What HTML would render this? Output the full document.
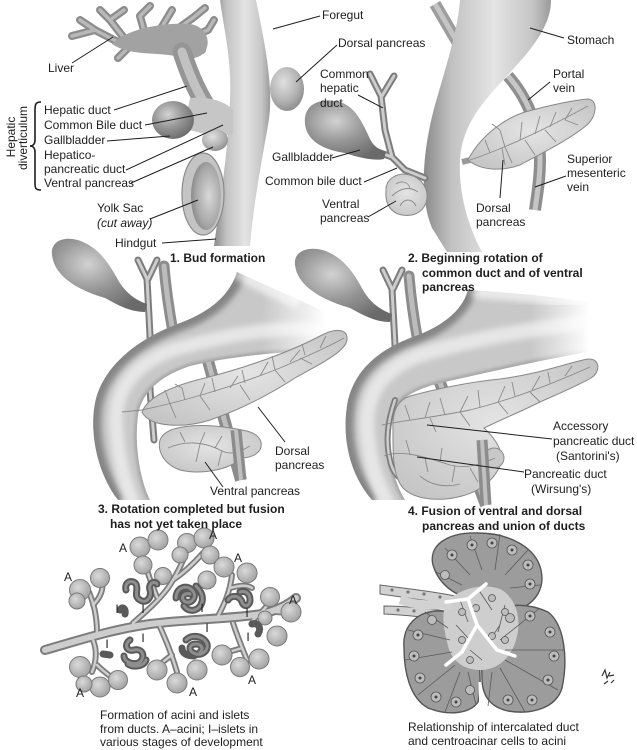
<!DOCTYPE html>
<html><head><meta charset="utf-8">
<style>
html,body{margin:0;padding:0;background:#fff;width:637px;height:750px;overflow:hidden}
svg{display:block}
text{font-family:"Liberation Sans",Arial,sans-serif;font-size:12px;fill:#1e1e1e}
.b{font-weight:bold}
.ln{stroke:#1e1e1e;stroke-width:1;fill:none}
.pv{fill:none;stroke:#8a8a8a;stroke-width:.9}
.ac{fill:url(#ac);stroke:#7a7a7a;stroke-width:1}
.isl{fill:none;stroke:#5a5a5a;stroke-width:7;stroke-linecap:round;stroke-linejoin:round}
.isl2{fill:none;stroke:#8e8e8e;stroke-width:3;stroke-linecap:round;stroke-linejoin:round}
.du{fill:none;stroke:#7c7c7c;stroke-linecap:round;stroke-linejoin:round}
.du2{fill:none;stroke:#cdcdcd;stroke-linecap:round;stroke-linejoin:round}
.nu{fill:#bdbdbd;stroke:#555;stroke-width:.8}
.cl{stroke:#5a5a5a;stroke-width:.8;fill:none}
</style></head><body>
<svg width="637" height="750" viewBox="0 0 637 750" xmlns="http://www.w3.org/2000/svg">
<defs>
 <linearGradient id="tv" x1="0" x2="1" y1="0" y2="0">
  <stop offset="0" stop-color="#8a8a8a"/><stop offset=".22" stop-color="#c2c2c2"/><stop offset=".55" stop-color="#e4e4e4"/><stop offset=".85" stop-color="#c6c6c6"/><stop offset="1" stop-color="#9a9a9a"/>
 </linearGradient>
 <radialGradient id="gb" cx=".38" cy=".35" r=".7">
  <stop offset="0" stop-color="#d2d2d2"/><stop offset=".5" stop-color="#979797"/><stop offset="1" stop-color="#6a6a6a"/>
 </radialGradient>
 <radialGradient id="bud" cx=".4" cy=".35" r=".7">
  <stop offset="0" stop-color="#e0e0e0"/><stop offset=".6" stop-color="#b4b4b4"/><stop offset="1" stop-color="#8a8a8a"/>
 </radialGradient>
 <radialGradient id="pc" cx=".5" cy=".45" r=".7">
  <stop offset="0" stop-color="#e4e4e4"/><stop offset="1" stop-color="#c2c2c2"/>
 </radialGradient>
 <radialGradient id="ac" cx=".4" cy=".38" r=".65">
  <stop offset="0" stop-color="#dadada"/><stop offset="1" stop-color="#a2a2a2"/>
 </radialGradient>
 <radialGradient id="ys" cx=".6" cy=".5" r=".7">
  <stop offset="0" stop-color="#d8d8d8"/><stop offset=".6" stop-color="#a8a8a8"/><stop offset="1" stop-color="#7a7a7a"/>
 </radialGradient>
 <linearGradient id="fade3" gradientUnits="userSpaceOnUse" x1="262" y1="0" x2="326" y2="0">
  <stop offset="0" stop-color="#fff" stop-opacity="0"/><stop offset="1" stop-color="#fff" stop-opacity="1"/>
 </linearGradient>
 <linearGradient id="fade4" gradientUnits="userSpaceOnUse" x1="530" y1="0" x2="590" y2="0">
  <stop offset="0" stop-color="#fff" stop-opacity="0"/><stop offset="1" stop-color="#fff" stop-opacity="1"/>
 </linearGradient>
 <filter id="bl" x="-30%" y="-30%" width="160%" height="160%"><feGaussianBlur stdDeviation="3"/></filter>
 <filter id="bl2" x="-30%" y="-30%" width="160%" height="160%"><feGaussianBlur stdDeviation="1.5"/></filter>
 <clipPath id="c3"><path d="M237,272 C230,295 210,312 180,323 C140,338 108,362 97,395 C88,425 95,470 118,500 L150,500 C140,480 134,445 138,415 C142,392 160,376 190,366 C230,356 280,352 325,350 L325,312 C300,300 265,285 237,272 Z"/></clipPath>
 <clipPath id="c4"><path d="M468,290 C462,312 440,328 410,338 C375,352 355,372 348,400 C342,430 346,470 372,500 L405,500 C393,480 386,450 390,422 C395,400 412,390 440,383 C490,372 540,360 588,352 L588,302 C550,296 505,292 468,290 Z"/></clipPath>
</defs>

<!-- ================= PANEL 1 ================= -->
<g stroke-linecap="round" stroke-linejoin="round" fill="none">
 <path d="M118,42 L95,30 L80,20 M95,30 L72,36 M124,38 L110,20 L100,10 M110,20 L124,10 M145,34 L140,16 L150,6 M160,30 L172,10 M176,30 L194,17 L205,8 M194,36 L208,30 L214,20 M185,46 L202,50 M132,44 L118,58" stroke="#8c8c8c" stroke-width="8"/>
 <path d="M118,42 L95,30 L80,20 M95,30 L72,36 M124,38 L110,20 L100,10 M110,20 L124,10 M145,34 L140,16 L150,6 M160,30 L172,10 M176,30 L194,17 L205,8 M194,36 L208,30 L214,20 M185,46 L202,50 M132,44 L118,58" stroke="#b8b8b8" stroke-width="3.5"/>
</g>
<path d="M112,44 C125,30 160,22 190,24 C205,26 212,40 205,52 C198,60 185,60 175,56 C155,52 130,56 112,44 Z" fill="#a2a2a2"/>
<path d="M182,52 C188,70 194,86 206,106" stroke="#959595" stroke-width="19" fill="none" stroke-linecap="round"/>
<path d="M182,52 C188,70 194,86 206,106" stroke="#c2c2c2" stroke-width="9" fill="none" stroke-linecap="round"/>
<path d="M220,0 C224,30 232,60 230,100 C229,140 222,190 214,246 L250,246 C254,200 262,160 268,125 C275,90 264,40 256,0 Z" fill="url(#tv)"/>
<path d="M190,98 C210,96 226,102 233,110 L233,134 C220,138 200,134 184,128 Z" fill="#c6c6c6"/>
<ellipse cx="173" cy="120" rx="21" ry="19" fill="url(#gb)"/>
<ellipse cx="215" cy="140" rx="13" ry="11" fill="url(#bud)"/>
<ellipse cx="287" cy="89" rx="17" ry="22" fill="url(#bud)"/>
<ellipse cx="203" cy="194" rx="21" ry="41" fill="#c4c4c4" stroke="#8a8a8a" stroke-width="1.2"/>
<ellipse cx="206" cy="196" rx="15" ry="34" fill="url(#ys)"/>

<!-- ================= PANEL 2 ================= -->
<path d="M435,4 L459,45" stroke="#9c9c9c" stroke-width="12" fill="none"/>
<path d="M435,4 L459,45" stroke="#c4c4c4" stroke-width="5" fill="none"/>
<path d="M508,76 C525,95 540,125 540,160 C540,180 537,195 535,210" stroke="#8e8e8e" stroke-width="12" fill="none"/>
<path d="M508,76 C525,95 540,125 540,160 C540,180 537,195 535,210" stroke="#c6c6c6" stroke-width="5" fill="none"/>
<path d="M460,0 C458,30 445,70 435,105 C424,145 418,195 432,228 L447,252 L482,252 C470,230 458,195 460,160 C462,120 490,95 515,67 C540,40 551,20 551,0 Z" fill="url(#tv)"/>
<path class="du" stroke-width="7" d="M370,74 L381,96 M394,76 L382,96 M381,96 L385,130 L392,157 L405,170 L425,178 M372,150 L392,157"/>
<path class="du2" stroke-width="3" d="M370,74 L381,96 M394,76 L382,96 M381,96 L385,130 L392,157 L405,170 L425,178 M372,150 L392,157"/>
<path d="M305,124 C303,104 320,97 340,102 C356,107 363,124 370,139 C374,147 380,150 386,152 L384,159 C375,161 360,158 345,153 C325,150 307,142 305,124 Z" fill="url(#gb)"/>
<path d="M386,190 C386,178 398,172 410,175 C422,178 430,190 426,203 C422,214 410,218 398,214 C388,210 385,200 386,190 Z" fill="url(#pc)" stroke="#888" stroke-width="1"/>
<path class="pv" d="M392,196 C400,188 410,186 418,192 M400,206 C404,198 412,198 416,206 M396,184 C402,180 408,182 410,188"/>
<path d="M462,162 L470,160" stroke="#9a9a9a" stroke-width="6"/>
<path d="M468,160 C478,140 500,120 525,112 C550,105 575,100 588,99 C598,100 597,115 588,124 C572,138 548,150 520,165 C500,172 480,170 468,160 Z" fill="url(#pc)" stroke="#888" stroke-width="1"/>
<path class="pv" d="M470,160 C500,150 540,132 588,106 M490,153 L485,140 M505,147 L500,130 L492,124 M520,140 L522,122 M535,134 L540,116 M550,127 L556,112 M565,120 L572,108 M505,147 L512,163 M525,140 L535,155 M545,130 L556,142 M565,120 L578,125 M502,148 L505,165"/>

<!-- ================= PANEL 3 ================= -->
<path class="du" stroke-width="7" d="M138,260 L147,279 M157,260 L148,279 M147,279 L150,335 L150,390 L154,440"/>
<path class="du2" stroke-width="3" d="M138,260 L147,279 M157,260 L148,279 M147,279 L150,335 L150,390 L154,440"/>
<path d="M164,266 C166,290 169,310 173,332" stroke="#8c8c8c" stroke-width="11" fill="none" stroke-linecap="round"/>
<path d="M164,266 C166,290 169,310 173,332" stroke="#bcbcbc" stroke-width="5" fill="none" stroke-linecap="round"/>
<path d="M52,255 C50,238 70,235 85,243 C100,250 110,265 118,280 C125,292 135,300 147,304 L145,312 C130,312 118,305 105,298 C85,292 55,280 52,255 Z" fill="url(#gb)"/>
<path d="M205,350 L241,480" stroke="#8c8c8c" stroke-width="12" fill="none"/>
<path d="M205,350 L241,480" stroke="#bdbdbd" stroke-width="5" fill="none"/>
<g clip-path="url(#c3)">
 <rect x="80" y="260" width="260" height="250" fill="#c8c8c8"/>
 <path d="M240,266 C232,295 210,312 180,323 C140,338 108,362 97,395 C88,425 95,470 118,503" stroke="#858585" stroke-width="16" fill="none" filter="url(#bl)"/>
 <path d="M325,330 C270,325 215,338 172,350 C132,365 114,392 116,425 C118,458 124,480 134,505" stroke="#e6e6e6" stroke-width="14" fill="none" filter="url(#bl)"/>
 <path d="M150,500 C140,480 134,445 138,415 C142,392 160,376 190,366 C230,356 280,352 325,350" stroke="#a4a4a4" stroke-width="5" fill="none" filter="url(#bl2)"/>
</g>
<rect x="255" y="255" width="75" height="110" fill="url(#fade3)"/>
<path d="M237,272 C255,282 275,292 300,302" stroke="#fff" stroke-width="14" fill="none" opacity=".6" filter="url(#bl)"/>
<path d="M160,440 C165,425 200,423 230,428 C245,430 258,432 261,442 C263,452 253,458 241,458 C230,470 200,475 180,470 C165,465 157,452 160,440 Z" fill="url(#pc)" stroke="#888" stroke-width="1"/>
<path class="pv" d="M168,448 C185,440 205,442 220,450 C230,456 240,452 250,446 M185,442 L180,432 M200,444 L205,432 M215,448 L222,436 M200,444 L196,462 M222,450 L218,466 M236,454 L240,440"/>
<path d="M142,412 C148,396 175,385 205,378 C245,368 290,352 320,336 C335,328 348,328 347,340 C345,352 320,364 295,378 C270,394 240,410 210,420 C185,428 150,428 142,412 Z" fill="url(#pc)" stroke="#888" stroke-width="1"/>
<path class="pv" d="M122,412 L142,410 C180,402 230,388 280,368 C310,355 330,346 344,338 M170,404 L165,390 M185,400 L182,388 L175,384 M200,396 L205,383 M215,392 L212,378 M230,388 L238,376 M245,383 L242,370 M260,376 L268,362 M275,370 L272,356 M290,362 L300,350 M305,355 L302,344 M320,348 L326,336 M200,396 L210,410 M240,385 L250,400 M275,370 L285,382 M170,404 L176,418 M300,358 L312,364"/>
<path d="M236,430 L241,480" stroke="#8c8c8c" stroke-width="11" fill="none"/>
<path d="M236,430 L241,480" stroke="#c0c0c0" stroke-width="4" fill="none"/>

<!-- ================= PANEL 4 ================= -->
<g transform="translate(245,10)">
 <path class="du" stroke-width="7" d="M138,260 L147,279 M157,260 L148,279 M147,279 L150,335 L150,390"/>
 <path class="du2" stroke-width="3" d="M138,260 L147,279 M157,260 L148,279 M147,279 L150,335 L150,390"/>
 <path d="M164,266 C166,290 169,310 173,332" stroke="#8c8c8c" stroke-width="11" fill="none" stroke-linecap="round"/>
 <path d="M164,266 C166,290 169,310 173,332" stroke="#bcbcbc" stroke-width="5" fill="none" stroke-linecap="round"/>
 <path d="M50,255 C48,238 70,235 85,243 C100,250 110,265 118,280 C125,292 135,300 147,304 L145,312 C130,312 118,305 105,298 C85,292 53,280 50,255 Z" fill="url(#gb)"/>
</g>
<path d="M436,372 L486,505" stroke="#8c8c8c" stroke-width="12" fill="none"/>
<path d="M436,372 L486,505" stroke="#bdbdbd" stroke-width="5" fill="none"/>
<g clip-path="url(#c4)">
 <rect x="330" y="280" width="270" height="230" fill="#c8c8c8"/>
 <path d="M471,284 C462,312 440,328 410,338 C375,352 355,372 348,400 C342,430 346,470 372,503" stroke="#858585" stroke-width="16" fill="none" filter="url(#bl)"/>
 <path d="M590,322 C520,330 460,342 420,355 C380,370 365,395 367,430 C369,462 377,482 388,505" stroke="#e6e6e6" stroke-width="15" fill="none" filter="url(#bl)"/>
 <path d="M405,500 C393,480 386,450 390,422 C395,400 412,390 440,383 C490,372 540,360 588,352" stroke="#a4a4a4" stroke-width="5" fill="none" filter="url(#bl2)"/>
</g>
<rect x="525" y="284" width="68" height="78" fill="url(#fade4)"/>
<path d="M472,292 C510,294 545,298 585,302" stroke="#fff" stroke-width="12" fill="none" opacity=".6" filter="url(#bl)"/>
<path class="du" stroke-width="6" d="M395,400 C388,420 385,440 390,460 C392,470 396,475 400,478"/>
<path class="du2" stroke-width="2.5" d="M395,400 C388,420 385,440 390,460 C392,470 396,475 400,478"/>
<path d="M393,430 C392,410 398,400 410,396 C440,388 470,382 500,379 C540,374 570,362 588,359 C600,358 601,372 591,378 C575,387 560,393 540,402 C520,412 500,420 484,428 C497,440 506,455 499,468 C492,482 478,492 462,496 C440,502 415,500 403,488 C392,475 393,450 393,430 Z" fill="url(#pc)" stroke="#888" stroke-width="1"/>
<circle cx="494" cy="458" r="10" fill="#c8c8c8" stroke="#888" stroke-width="1"/>
<path class="pv" d="M382,425 C400,421 430,418 470,410 C510,400 550,385 590,367 M410,420 L405,405 M425,418 L430,402 M445,415 L440,398 M460,412 L468,396 M480,407 L478,390 M498,402 L505,386 M515,396 L512,382 M532,390 L540,376 M550,383 L548,372 M565,376 L572,366 M430,418 L436,432 M460,412 L470,426 M498,402 L508,414 M530,392 L540,402 M384,456 C400,450 420,455 450,465 C470,470 485,462 495,458 M410,454 L406,440 M425,458 L428,472 M440,462 L442,448 M455,466 L452,482 M470,468 L478,482 M420,476 C430,485 445,488 460,484"/>
<path d="M482,440 L486,505" stroke="#8c8c8c" stroke-width="11" fill="none"/>
<path d="M482,440 L486,505" stroke="#c0c0c0" stroke-width="4" fill="none"/>

<!-- ================= PANEL 5 ================= -->
<g>
 <path class="du" stroke-width="10" d="M45,650 C80,640 110,630 150,624 C190,619 230,619 262,614 C278,610 288,605 296,598"/>
 <path class="du" stroke-width="6" d="M97,633 C97,615 93,600 87,588 M93,605 C100,598 104,590 102,580 M133,623 C148,610 165,595 173,580 C180,568 185,558 187,548 M157,597 C152,585 148,575 145,563 M173,580 C185,572 195,562 203,553 M217,618 C224,605 230,592 232,575 M230,588 C238,586 246,584 252,588 M253,620 C262,612 270,604 272,597 M276,612 L290,613 M93,640 C97,650 97,660 92,672 M97,665 C104,672 110,676 115,680 M160,627 C166,640 172,655 177,672 M172,655 C165,660 160,664 157,668 M233,623 C237,635 242,648 247,660 M242,648 C236,650 228,652 224,653"/>
 <path class="du2" stroke-width="6" d="M45,650 C80,640 110,630 150,624 C190,619 230,619 262,614 C278,610 288,605 296,598"/>
 <path class="du2" stroke-width="2.5" d="M97,633 C97,615 93,600 87,588 M93,605 C100,598 104,590 102,580 M133,623 C148,610 165,595 173,580 C180,568 185,558 187,548 M157,597 C152,585 148,575 145,563 M173,580 C185,572 195,562 203,553 M217,618 C224,605 230,592 232,575 M230,588 C238,586 246,584 252,588 M253,620 C262,612 270,604 272,597 M276,612 L290,613 M93,640 C97,650 97,660 92,672 M97,665 C104,672 110,676 115,680 M160,627 C166,640 172,655 177,672 M172,655 C165,660 160,664 157,668 M233,623 C237,635 242,648 247,660 M242,648 C236,650 228,652 224,653"/>
 <g>
  <circle class="ac" cx="140" cy="547" r="10"/><circle class="ac" cx="158" cy="540" r="10"/><circle class="ac" cx="143" cy="565" r="9"/><circle class="ac" cx="163" cy="576" r="8.5"/>
  <circle class="ac" cx="187" cy="543" r="9.5"/><circle class="ac" cx="204" cy="538" r="10"/><circle class="ac" cx="210" cy="555" r="9"/><circle class="ac" cx="180" cy="555" r="8"/>
  <circle class="ac" cx="80" cy="590" r="10.5"/><circle class="ac" cx="100" cy="578" r="9.5"/><circle class="ac" cx="77" cy="601" r="8"/>
  <circle class="ac" cx="207" cy="580" r="9"/><circle class="ac" cx="224" cy="567" r="10"/><circle class="ac" cx="247" cy="573" r="10"/>
  <circle class="ac" cx="270" cy="597" r="9.5"/><circle class="ac" cx="291" cy="612" r="10"/><circle class="ac" cx="277" cy="636" r="10"/><circle class="ac" cx="265" cy="618" r="7"/>
  <circle class="ac" cx="222" cy="655" r="10"/><circle class="ac" cx="240" cy="667" r="9.5"/><circle class="ac" cx="259" cy="659" r="10"/>
  <circle class="ac" cx="157" cy="670" r="10"/><circle class="ac" cx="177" cy="683" r="10"/><circle class="ac" cx="197" cy="670" r="10"/>
  <circle class="ac" cx="80" cy="667" r="10.5"/><circle class="ac" cx="100" cy="687" r="10"/><circle class="ac" cx="118" cy="680" r="9.5"/><circle class="ac" cx="84" cy="684" r="8"/>
 </g>
 <path class="isl" d="M126,590 C124,582 132,579 136,584 C139,590 133,596 140,600 C146,604 152,598 150,590 C148,584 154,580 157,584 M176,598 C176,588 186,584 192,590 C198,596 192,604 186,602 C180,600 182,592 190,594 M184,606 C190,614 200,610 202,602 C204,594 198,588 196,586 M228,600 C232,594 240,596 242,602 C244,608 250,606 250,600 C250,594 246,590 240,592 M130,640 C124,644 126,652 134,650 C142,648 146,656 140,662 C134,666 124,662 124,656 M128,664 C134,668 144,666 146,660 M186,640 C192,634 202,636 206,642 C210,648 204,656 196,654 C188,652 188,644 196,644 C202,644 204,650 200,652 M182,648 C182,654 188,656 194,656 M252,624 C258,622 262,628 258,634 M120,610 C122,606 126,608 125,614 M103,654 L110,655"/>
 <path class="isl2" d="M126,590 C124,582 132,579 136,584 C139,590 133,596 140,600 C146,604 152,598 150,590 C148,584 154,580 157,584 M176,598 C176,588 186,584 192,590 C198,596 192,604 186,602 C180,600 182,592 190,594 M184,606 C190,614 200,610 202,602 C204,594 198,588 196,586 M228,600 C232,594 240,596 242,602 C244,608 250,606 250,600 C250,594 246,590 240,592 M130,640 C124,644 126,652 134,650 C142,648 146,656 140,662 C134,666 124,662 124,656 M128,664 C134,668 144,666 146,660 M186,640 C192,634 202,636 206,642 C210,648 204,656 196,654 C188,652 188,644 196,644 C202,644 204,650 200,652"/>
</g>

<!-- ================= PANEL 6 ================= -->
<g>
 <path d="M380,585 C400,588 425,590 455,596 L455,605 C425,600 400,597 380,594 Z" fill="#d2d2d2" stroke="#666" stroke-width="1"/>
 <path d="M384,606 C405,606 425,608 452,612 L452,621 C425,617 405,615 384,614 Z" fill="#d2d2d2" stroke="#666" stroke-width="1"/>
 <g fill="#777"><circle cx="392" cy="590" r="1.6"/><circle cx="408" cy="592" r="1.6"/><circle cx="424" cy="594" r="1.6"/><circle cx="440" cy="597" r="1.6"/><circle cx="398" cy="610" r="1.6"/><circle cx="414" cy="611" r="1.6"/><circle cx="430" cy="614" r="1.6"/></g>
 <path d="M433,565 C428,545 448,532 478,533 C510,533 536,548 541,570 C545,588 536,602 520,609 C505,612 490,606 478,600 C460,598 440,588 433,565 Z" fill="#9c9c9c" stroke="#555" stroke-width="1.4"/>
 <path d="M404,648 C402,625 418,610 442,611 C458,612 468,622 474,635 C480,655 482,685 478,702 C470,714 448,716 428,708 C410,698 404,672 404,648 Z" fill="#9c9c9c" stroke="#555" stroke-width="1.4"/>
 <path d="M478,618 C495,604 525,601 548,612 C565,625 568,660 562,688 C556,708 532,715 508,711 C490,707 482,695 482,678 C482,660 478,640 478,618 Z" fill="#9c9c9c" stroke="#555" stroke-width="1.4"/>
 <path d="M448,600 C462,588 485,582 502,590 C517,600 522,620 516,640 C510,660 496,670 480,670 C465,670 452,662 448,646 C444,630 440,612 448,600 Z" fill="#cecece"/>
 <path d="M452,605 C430,605 420,606 400,600" fill="none" stroke="#d2d2d2" stroke-width="9"/>
 <g class="cl">
  <path d="M470,575 L445,548 M482,570 L470,536 M495,570 L500,534 M505,575 L528,550 M510,588 L540,585 M462,585 L436,572"/>
  <path d="M450,640 L408,630 M452,652 L405,660 M455,665 L418,695 M460,672 L445,712 M468,672 L476,705 M448,628 L425,612"/>
  <path d="M500,640 L540,608 M505,650 L565,650 M505,660 L558,690 M500,668 L525,712 M498,632 L505,605 M492,672 L488,706"/>
  <path d="M460,600 L468,622 M480,592 L492,610 M456,625 L470,640 M490,640 L500,625 M470,650 L482,660"/>
 </g>
 <g>
  <circle class="nu" cx="452" cy="555" r="5"/><circle class="nu" cx="472" cy="545" r="5"/><circle class="nu" cx="492" cy="543" r="5"/><circle class="nu" cx="512" cy="550" r="5"/><circle class="nu" cx="528" cy="565" r="5"/><circle class="nu" cx="530" cy="584" r="5"/><circle class="nu" cx="445" cy="575" r="4.5"/>
  <circle class="nu" cx="418" cy="635" r="5"/><circle class="nu" cx="414" cy="656" r="5"/><circle class="nu" cx="420" cy="678" r="5"/><circle class="nu" cx="436" cy="697" r="5"/><circle class="nu" cx="456" cy="702" r="5"/><circle class="nu" cx="470" cy="690" r="4.5"/><circle class="nu" cx="432" cy="620" r="4.5"/>
  <circle class="nu" cx="530" cy="616" r="5"/><circle class="nu" cx="550" cy="632" r="5"/><circle class="nu" cx="554" cy="656" r="5"/><circle class="nu" cx="548" cy="680" r="5"/><circle class="nu" cx="532" cy="700" r="5"/><circle class="nu" cx="508" cy="700" r="5"/><circle class="nu" cx="510" cy="618" r="4.5"/>
  <circle class="nu" cx="462" cy="612" r="3.5"/><circle class="nu" cx="476" cy="608" r="3.5"/><circle class="nu" cx="492" cy="598" r="3.5"/><circle class="nu" cx="505" cy="612" r="3.5"/><circle class="nu" cx="462" cy="640" r="3.5"/><circle class="nu" cx="492" cy="636" r="3.5"/><circle class="nu" cx="470" cy="660" r="3.5"/><circle class="nu" cx="505" cy="640" r="3.5"/>
 </g>
 <g fill="#444"><circle cx="452" cy="555" r="1.5"/><circle cx="472" cy="545" r="1.5"/><circle cx="492" cy="543" r="1.5"/><circle cx="512" cy="550" r="1.5"/><circle cx="528" cy="565" r="1.5"/><circle cx="530" cy="584" r="1.5"/><circle cx="418" cy="635" r="1.5"/><circle cx="414" cy="656" r="1.5"/><circle cx="420" cy="678" r="1.5"/><circle cx="436" cy="697" r="1.5"/><circle cx="456" cy="702" r="1.5"/><circle cx="530" cy="616" r="1.5"/><circle cx="550" cy="632" r="1.5"/><circle cx="554" cy="656" r="1.5"/><circle cx="548" cy="680" r="1.5"/><circle cx="532" cy="700" r="1.5"/><circle cx="508" cy="700" r="1.5"/></g>
 <path d="M446,602 L468,599 L486,584 M468,599 L477,625 L497,650 L515,656 M477,625 L462,652 L446,665" fill="none" stroke="#fff" stroke-width="3.5" stroke-linecap="round" stroke-linejoin="round"/>
 <path d="M480,682 L481,714" stroke="#fff" stroke-width="3"/>
 <path d="M602,676 L605,670 L607,678 L610,672 M604,684 L608,681 M611,683 L614,680 M609,676 L614,675" stroke="#333" stroke-width="1.2" fill="none"/>
</g>

<!-- ================= LABELS (on top) ================= -->
<text x="48" y="72">Liver</text>
<path class="ln" d="M72,63 L113,37"/>
<text x="44" y="114">Hepatic duct</text>
<path class="ln" d="M114,110 L187,86"/>
<text x="44" y="129">Common Bile duct</text>
<path class="ln" d="M145,125 L207,113"/>
<text x="44" y="144">Gallbladder</text>
<path class="ln" d="M107,141 L170,136"/>
<text x="44" y="159">Hepatico-</text>
<text x="44" y="173">pancreatic duct</text>
<path class="ln" d="M126,170 L223,125"/>
<text x="44" y="187">Ventral pancreas</text>
<path class="ln" d="M131,183 L213,147"/>
<path d="M41,102 C36,102 35,104 35,110 L35,140 C35,144 33,146 30,146 C33,146 35,148 35,152 L35,183 C35,189 36,190 41,190" stroke="#1e1e1e" stroke-width="1.6" fill="none"/>
<text transform="translate(15,137) rotate(-90)" text-anchor="middle">Hepatic</text>
<text transform="translate(27,138) rotate(-90)" text-anchor="middle">diverticulum</text>
<text x="97" y="212">Yolk Sac</text>
<text x="97" y="227" font-style="italic">(cut away)</text>
<path class="ln" d="M150,219 L198,200"/>
<text x="115" y="247">Hindgut</text>
<path class="ln" d="M162,243 L216,239"/>
<text x="170" y="262" class="b">1. Bud formation</text>
<text x="322" y="19">Foregut</text>
<path class="ln" d="M273,29 L320,16"/>
<text x="338" y="47">Dorsal pancreas</text>
<path class="ln" d="M296,82 L337,45"/>

<text x="567" y="44">Stomach</text>
<path class="ln" d="M530,28 L564,38"/>
<text x="320" y="78">Common</text>
<text x="320" y="92">hepatic</text>
<text x="320" y="107">duct</text>
<path class="ln" d="M358,95 L383,108"/>
<text x="553" y="78">Portal</text>
<text x="553" y="92">vein</text>
<path class="ln" d="M528,100 L550,82"/>
<text x="272" y="161">Gallbladder</text>
<path class="ln" d="M332,158 L360,150"/>
<text x="265" y="185">Common bile duct</text>
<path class="ln" d="M364,182 L397,168"/>
<text x="322" y="208">Ventral</text>
<text x="320" y="222">pancreas</text>
<path class="ln" d="M368,217 L396,201"/>
<text x="567" y="163">Superior</text>
<text x="567" y="177">mesenteric</text>
<text x="567" y="191">vein</text>
<path class="ln" d="M535,187 L566,176"/>
<text x="476" y="212">Dorsal</text>
<text x="476" y="226">pancreas</text>
<path class="ln" d="M500,198 L503,160"/>
<text x="408" y="262" class="b">2. Beginning rotation of</text>
<text x="422" y="277" class="b">common duct and of ventral</text>
<text x="422" y="291" class="b">pancreas</text>

<text x="275" y="455">Dorsal</text>
<text x="275" y="469">pancreas</text>
<path class="ln" d="M258,407 L285,442"/>
<text x="210" y="495">Ventral pancreas</text>
<path class="ln" d="M205,462 L223,487"/>
<text x="98" y="513" class="b">3. Rotation completed but fusion</text>
<text x="110" y="528" class="b">has not yet taken place</text>

<text x="553" y="430">Accessory</text>
<text x="553" y="445">pancreatic duct</text>
<text x="556" y="460">(Santorini's)</text>
<path class="ln" d="M427,425 L552,439"/>
<text x="524" y="478">Pancreatic duct</text>
<text x="531" y="493">(Wirsung's)</text>
<path class="ln" d="M417,457 L524,472"/>
<text x="408" y="515" class="b">4. Fusion of ventral and dorsal</text>
<text x="422" y="530" class="b">pancreas and union of ducts</text>

<g text-anchor="middle" font-size="12">
 <text x="123" y="552">A</text><text x="213" y="539">A</text><text x="68" y="581">A</text><text x="238" y="562">A</text><text x="293" y="604">A</text><text x="252" y="684">A</text><text x="193" y="696">A</text><text x="80" y="697">A</text>
 <text x="117" y="613">I</text><text x="143" y="613">I</text><text x="202" y="612">I</text><text x="247" y="617">I</text><text x="207" y="632">I</text><text x="143" y="642">I</text><text x="248" y="641">I</text><text x="107" y="648">I</text>
</g>
<text x="100" y="719">Formation of acini and islets</text>
<text x="100" y="733">from ducts. A–acini; I–islets in</text>
<text x="100" y="746">various stages of development</text>
<text x="408" y="731">Relationship of intercalated duct</text>
<text x="408" y="745">and centroacinar cells to acini</text>
</svg>
</body></html>
